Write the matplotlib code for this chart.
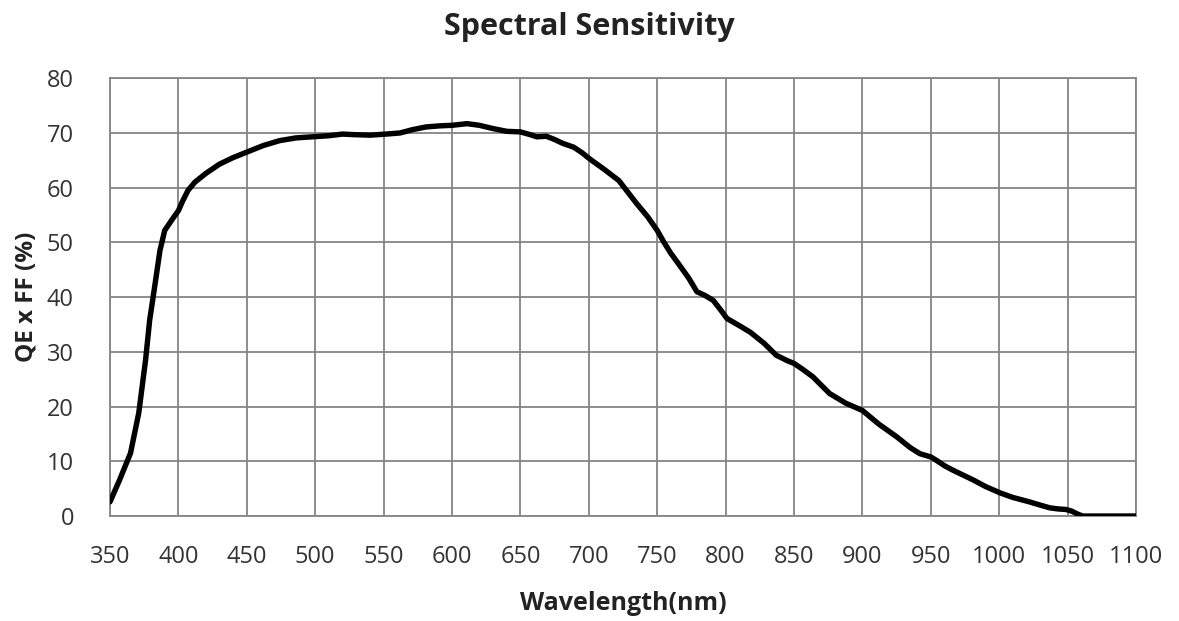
import numpy as np
from matplotlib import pyplot as plt

plt.rcParams['font.family'] = ['Open Sans', 'DejaVu Sans']

# ---- data
wavelength = [350, 357, 365, 371, 376, 379, 383, 386.5, 390, 396, 400, 403, 407, 412,
              420, 430, 440, 450, 462, 474, 486, 498, 510, 520, 528, 540, 552, 562,
              571, 581, 591, 600, 611, 620, 630, 640, 650, 657, 662, 669, 675, 681,
              689, 695, 701, 711, 722, 735, 743, 750, 755, 760, 765, 769, 773, 779,
              785, 791, 796, 801, 810, 818, 828, 837, 845, 850, 857, 864, 870, 876,
              888, 900, 912, 925, 935, 942, 950, 954, 960, 966, 981, 990, 1001, 1010,
              1022, 1030, 1037, 1043, 1049, 1053, 1057, 1061, 1070, 1080, 1100]
qe_ff = [2.6, 6.6, 11.5, 18.8, 28.5, 35.8, 42.5, 48.5, 52.2, 54.4, 55.8, 57.5, 59.5, 61.0,
         62.6, 64.3, 65.5, 66.5, 67.7, 68.6, 69.1, 69.3, 69.5, 69.8, 69.7, 69.6, 69.8, 70.0,
         70.6, 71.1, 71.3, 71.4, 71.7, 71.4, 70.8, 70.3, 70.2, 69.7, 69.3, 69.4, 68.8, 68.1,
         67.4, 66.4, 65.2, 63.4, 61.3, 57.1, 54.7, 52.2, 50.0, 48.0, 46.3, 44.9, 43.5, 41.0,
         40.3, 39.4, 37.8, 36.1, 34.8, 33.6, 31.6, 29.4, 28.4, 27.9, 26.7, 25.4, 23.9, 22.4,
         20.6, 19.3, 16.8, 14.5, 12.5, 11.4, 10.8, 10.2, 9.2, 8.4, 6.6, 5.4, 4.2, 3.4,
         2.6, 2.0, 1.5, 1.3, 1.2, 0.9, 0.4, 0.0, 0.0, 0.0, 0.0]

x_ticks = np.arange(350, 1101, 50)
y_ticks = np.arange(0, 81, 10)

# ---- figure
fig = plt.figure(figsize=(11.79, 6.21), dpi=100)
ax = fig.add_axes([0.0933, 0.169, 0.8702, 0.705])

ax.plot(wavelength, qe_ff, '-', color='black', lw=3.9,
        solid_joinstyle='round', solid_capstyle='round', zorder=3)

ax.set_xlim(350, 1100)
ax.set_ylim(0, 80)
ax.set_xticks(x_ticks)
ax.set_yticks(y_ticks)

ax.grid(True, color='#858585', lw=1.3)
ax.set_axisbelow(True)
for s in ax.spines.values():
    s.set_color('#858585')
    s.set_linewidth(1.3)

ax.tick_params(axis='both', length=0, labelsize=17, colors='#333333')
ax.tick_params(axis='x', pad=21)
ax.tick_params(axis='y', pad=26)

ax.set_xlabel('Wavelength(nm)', fontsize=18, fontweight='bold', color='#222222', labelpad=16)
ax.set_ylabel('QE x FF (%)', fontsize=17.5, fontweight='bold', color='#222222', labelpad=6)
fig.suptitle('Spectral Sensitivity', x=0.5, y=0.98, fontsize=22,
             fontweight='bold', color='#222222')

plt.savefig('out.png', dpi=100)
